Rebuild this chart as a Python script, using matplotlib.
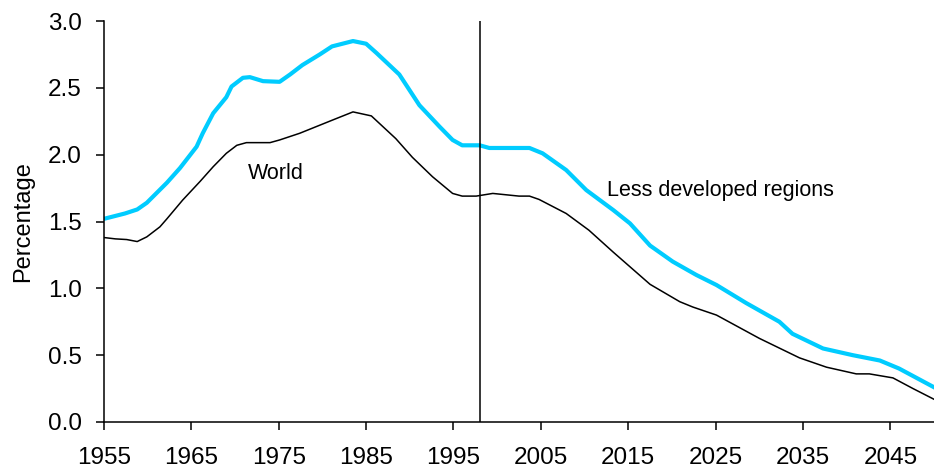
import numpy as np
import matplotlib.pyplot as plt

plt.rcParams['font.family'] = ['Liberation Sans', 'DejaVu Sans']

# annual population growth rate, percent
ldr_years = [1955, 1957.4, 1958.8, 1959.9, 1962.2, 1963.7, 1965.6, 1966.3, 1967.5, 1969,
             1969.6, 1970.9, 1971.7, 1973.2, 1975.1, 1976.3, 1977.7, 1979.7, 1981.1, 1983.5,
             1985, 1986.2, 1988.8, 1991.1, 1993.4, 1994.9, 1996, 1998, 1999.1, 2003.7,
             2005.2, 2007.9, 2010.2, 2013.3, 2015.2, 2017.5, 2020.1, 2022.8, 2025.1, 2028.5,
             2032.3, 2033.8, 2037.3, 2040.7, 2043.8, 2046, 2048, 2050]
ldr_values = [1.52, 1.56, 1.59, 1.64, 1.79, 1.90, 2.06, 2.16, 2.31, 2.43,
              2.51, 2.575, 2.58, 2.55, 2.545, 2.60, 2.67, 2.75, 2.81, 2.85,
              2.83, 2.76, 2.60, 2.37, 2.21, 2.11, 2.07, 2.07, 2.05, 2.05,
              2.01, 1.885, 1.735, 1.585, 1.486, 1.32, 1.20, 1.10, 1.025, 0.89,
              0.75, 0.66, 0.55, 0.50, 0.46, 0.40, 0.33, 0.26]

world_years = [1955, 1956.3, 1957.6, 1958.8, 1959.9, 1961.4, 1962.2, 1964, 1966, 1967.5,
               1969, 1970.2, 1971.3, 1974, 1975.1, 1977.4, 1979.3, 1981.2, 1983.5, 1985.6,
               1988.4, 1990.3, 1992.6, 1994.9, 1996, 1997.6, 1999.5, 2002.5, 2003.7, 2004.8,
               2007.9, 2010.5, 2013.3, 2017.5, 2020.9, 2022.4, 2025.1, 2030, 2034.6, 2037.7,
               2041.1, 2042.6, 2045.3, 2047.6, 2050]
world_values = [1.38, 1.37, 1.365, 1.35, 1.385, 1.46, 1.52, 1.66, 1.80, 1.91,
                2.01, 2.07, 2.09, 2.09, 2.11, 2.16, 2.21, 2.26, 2.32, 2.29,
                2.12, 1.98, 1.835, 1.71, 1.69, 1.69, 1.71, 1.69, 1.69, 1.665,
                1.56, 1.435, 1.27, 1.03, 0.90, 0.86, 0.80, 0.626, 0.48, 0.41,
                0.36, 0.36, 0.33, 0.25, 0.17]

divider_year = 1998
x_ticks = np.arange(1955, 2050, 10)
y_ticks = np.arange(0, 3.01, 0.5)

fig = plt.figure(figsize=(9.34, 4.70), dpi=100)
ax = fig.add_axes([104 / 934, 48 / 470, 830 / 934, 401 / 470])

ax.plot(ldr_years, ldr_values, color='#00CCFF', lw=3.0, solid_joinstyle='round')
ax.plot(world_years, world_values, color='black', lw=1.1)
ax.axvline(divider_year, color='black', lw=1.1)

ax.text(1971.5, 1.86, 'World', fontsize=15.5, va='center', ha='left')
ax.text(2012.6, 1.73, 'Less developed regions', fontsize=15.5, va='center', ha='left')

ax.set_xlim(1955, 2050)
ax.set_ylim(0, 3.0)
ax.set_xticks(x_ticks)
ax.set_yticks(y_ticks)
ax.set_yticklabels([f'{v:.1f}' for v in y_ticks])
ax.tick_params(axis='x', direction='out', length=6, width=1.1, labelsize=17.5, pad=12)
ax.tick_params(axis='y', direction='out', length=6, width=1.1, labelsize=17.5, pad=10)
ax.set_ylabel('Percentage', fontsize=17, labelpad=10)

for side in ['top', 'right']:
    ax.spines[side].set_visible(False)
for side in ['left', 'bottom']:
    ax.spines[side].set_linewidth(1.1)

fig.savefig('out.png', dpi=100)
